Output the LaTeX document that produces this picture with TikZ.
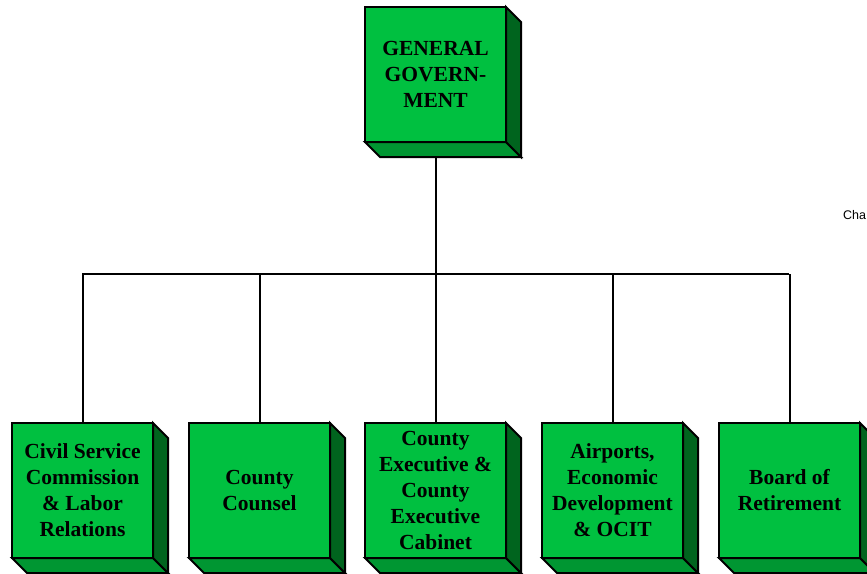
\documentclass[tikz,border=0pt]{standalone}
\usepackage{fontspec}
\setmainfont{Liberation Serif}
\newfontfamily\arialfont{Liberation Sans}
\definecolor{gfront}{RGB}{0,192,64}
\definecolor{gbottom}{RGB}{0,150,50}
\definecolor{gside}{RGB}{0,100,30}
\begin{document}
\begin{tikzpicture}[x=1pt,y=-1pt,
  box/.style={draw=black,line width=2pt,fill=gfront,minimum width=141pt,minimum height=135pt,inner sep=0pt,outer sep=0pt,align=center,font=\bfseries\fontsize{21.5}{26}\selectfont,text=black,anchor=north west},
  face/.style={draw=black,line width=2pt,line join=miter},
  conn/.style={draw=black,line width=2pt}]
\useasboundingbox (0,0) rectangle (867,573);
\newcommand{\threed}[1]{%
  \path[face,fill=gbottom] (#1.south west) -- ++(15,15) -- ++(141,0) -- (#1.south east) -- cycle;
  \path[face,fill=gside] (#1.north east) -- ++(15,15) -- ++(0,135) -- (#1.south east) -- cycle;
}
\node[box] (gg) at (365,7) {GENERAL\\GOVERN-\\MENT};
\threed{gg}
\node[box] (b1) at (12,423) {Civil Service\\Commission\\\& Labor\\Relations};
\node[box] (b2) at (189,423) {County\\Counsel};
\node[box] (b3) at (365,423) {County\\Executive \&\\County\\Executive\\Cabinet};
\node[box] (b4) at (542,423) {Airports,\\Economic\\Development\\\& OCIT};
\node[box] (b5) at (719,423) {Board of\\Retirement};
\foreach \b in {b1,b2,b3,b4,b5}{\threed{\b}}
\coordinate (hub) at (436,274);
\coordinate (hl) at (82,274);
\coordinate (hr) at (789,274);
\coordinate (ggb) at (436,156);
\draw[conn] (ggb) -- (hub);
\draw[conn] (hl) -- (hr);
\foreach \b in {b1,b2,b3,b4,b5}{\draw[conn] (\b.north |- hub) -- (\b.north);}
\node[anchor=base west,inner sep=0pt,font=\arialfont\fontsize{12.5}{15}\selectfont] (cha) at (843,219) {Cha};
\end{tikzpicture}
\end{document}
